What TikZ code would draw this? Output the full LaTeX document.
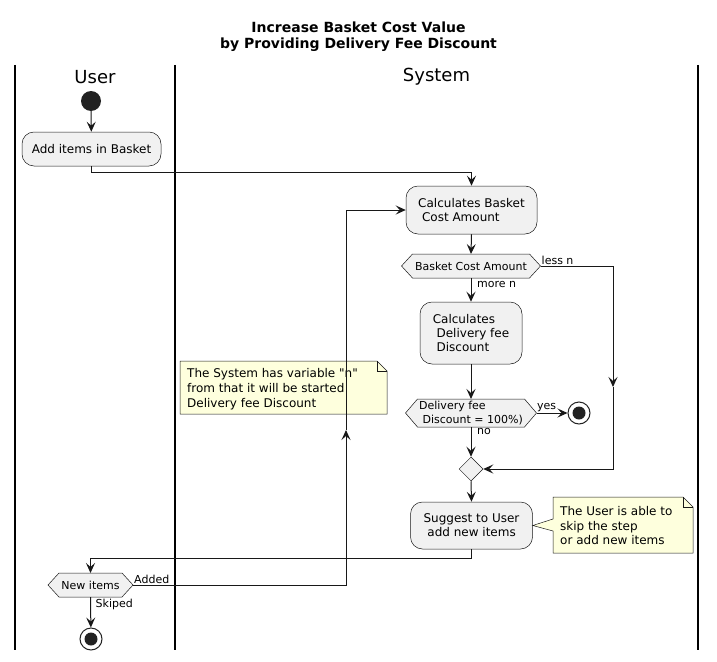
\documentclass[tikz,border=0pt]{standalone}
\usepackage{fontspec}
\newfontfamily\dv{DejaVu Sans}
\usetikzlibrary{arrows.meta,calc,shapes.geometric}
\definecolor{boxfill}{HTML}{F1F1F1}
\definecolor{notefill}{HTML}{FEFFDD}
\definecolor{ink}{HTML}{181818}
\definecolor{dot}{HTML}{222222}
\newcommand\hexnode[7]{%
  \path[hexshape] (#2-#4,#3) -- (#2-#4+#6,#3-#5) -- (#2+#4-#6,#3-#5) -- (#2+#4,#3)
     -- (#2+#4-#6,#3+#5) -- (#2-#4+#6,#3+#5) -- cycle;
  \node[hextext] (#1) at (#2,#3) {#7};
  \coordinate (#1w) at (#2-#4,#3);
  \coordinate (#1e) at (#2+#4,#3);
  \coordinate (#1n) at (#2,#3-#5);
  \coordinate (#1s) at (#2,#3+#5);
}
\begin{document}
\begin{tikzpicture}[x=1pt,y=-1pt,
  act/.style={draw=ink, line width=0.5pt, fill=boxfill, rounded corners=12pt, inner sep=0pt, align=left, font=\dv\fontsize{12}{14}\selectfont},
  hexshape/.style={draw=ink, line width=0.5pt, fill=boxfill},
  hextext/.style={inner sep=0pt, align=left, font=\dv\fontsize{11}{13.5}\selectfont},
  notebox/.style={draw=ink, line width=0.5pt, fill=notefill},
  notetext/.style={inner sep=0pt, align=left, anchor=north west, font=\dv\fontsize{12}{14.8}\selectfont},
  lbl/.style={inner sep=0pt, anchor=base west, font=\dv\fontsize{11}{13}\selectfont},
  conn/.style={draw=ink, line width=1pt},
  arr/.style={conn, -{Stealth[length=10pt,width=9pt,inset=4pt]}},
  startdot/.style={circle, fill=dot, minimum size=20pt, inner sep=0pt},
  enddot/.style={circle, draw=dot, line width=1pt, fill=white, minimum size=22pt, inner sep=0pt,
     path picture={\fill[dot] (path picture bounding box.center) circle (6.5pt);}},
  lane/.style={line width=1.5pt, draw=black},
  lanetitle/.style={font=\dv\fontsize{18}{20}\selectfont, inner sep=0pt},
]
\fill[white] (0,0) rectangle (717,661);
\useasboundingbox (0,0) rectangle (717,661);

% title
\node[font=\dv\bfseries\fontsize{14}{16}\selectfont, align=center, inner sep=0pt] (title) at (358.5,37) {Increase Basket Cost Value\\by Providing Delivery Fee Discount};

% swimlanes
\draw[lane] (15,65) -- (15,650);
\draw[lane] (175,65) -- (175,650);
\draw[lane] (698,65) -- (698,650);
\node[lanetitle] (luser) at (95,77) {User};
\node[lanetitle] (lsys) at (436.5,77) {System};

% notes
\path[notebox] (180,361) -- (377,361) -- (387,371) -- (387,414) -- (180,414) -- cycle;
\draw[draw=ink, line width=0.5pt] (377,361) -- (377,371) -- (387,371);
\node[notetext] (n1) at (187,368.5) {The System has variable "n"\\from that it will be started\\Delivery fee Discount};

% nodes
\node[startdot] (start) at (91,101) {};
\node[act, minimum width=139pt, minimum height=34pt] (a1) at (91.5,149) {Add items in Basket};
\node[act, minimum width=131pt, minimum height=48pt] (a2) at (471.5,210) {Calculates Basket\\~Cost Amount};
\hexnode{d1}{471}{266}{69.5}{12}{11}{Basket Cost Amount}
\node[act, minimum width=102pt, minimum height=62pt] (a3) at (471,333) {Calculates\\~Delivery fee\\~Discount};
\hexnode{d2}{471}{413}{65.5}{14}{12}{Delivery fee\\~Discount = 100\%)}
\node[enddot] (e1) at (579,413) {};
\node[diamond, draw=ink, line width=0.5pt, fill=boxfill, minimum size=24pt, inner sep=0pt] (m) at (471,469) {};
\node[act, minimum width=122pt, minimum height=47pt] (a4) at (471.5,525.5) {Suggest to User\\~add new items};
\hexnode{d3}{90.5}{585}{42.5}{12}{11}{New items}
\node[enddot] (e2) at (91,639) {};

% note with tail
\path[notebox] (553,497) -- (683,497) -- (693,507) -- (693,553) -- (553,553) -- (553,531) -- (a4.east) -- (553,519) -- cycle;
\draw[draw=ink, line width=0.5pt] (683,497) -- (683,507) -- (693,507);
\node[notetext] (n2) at (560,506) {The User is able to\\skip the step\\or add new items};

% connectors
\coordinate (r1) at (613,387);
\coordinate (r2) at (346,430);
\draw[arr] (start) -- (a1);
\draw[arr] (a1.south) -- ++(0,6) -| (a2.north);
\draw[arr] (a2.south) -- (d1n);
\draw[arr] (d1e) -| (r1);
\draw[arr] (r1) |- (m.east);
\draw[arr] (d1s) -- (a3.north);
\draw[arr] (a3.south) -- (d2n);
\draw[arr] (d2e) -- (e1);
\draw[arr] (d2s) -- (m.north);
\draw[arr] (m.south) -- (a4.north);
\draw[arr] (a4.south) -- ++(0,9) -| (d3n);
\draw[arr] (d3e) -| (r2);
\draw[arr] (r2) |- (a2.west);
\draw[arr] (d3s) -- (e2);

% branch labels
\node[lbl] (lless) at ($(d1e)+(1,-2)$) {less n};
\node[lbl] (lmore) at ($(d1s)+(6,9)$) {more n};
\node[lbl] (lyes) at ($(d2e)+(0.5,-3.5)$) {yes};
\node[lbl] (lno) at ($(d2s)+(6,7.7)$) {no};
\node[lbl] (ladded) at ($(d3e)+(1,-2)$) {Added};
\node[lbl] (lskip) at ($(d3s)+(5,10)$) {Skiped};
\end{tikzpicture}
\end{document}
